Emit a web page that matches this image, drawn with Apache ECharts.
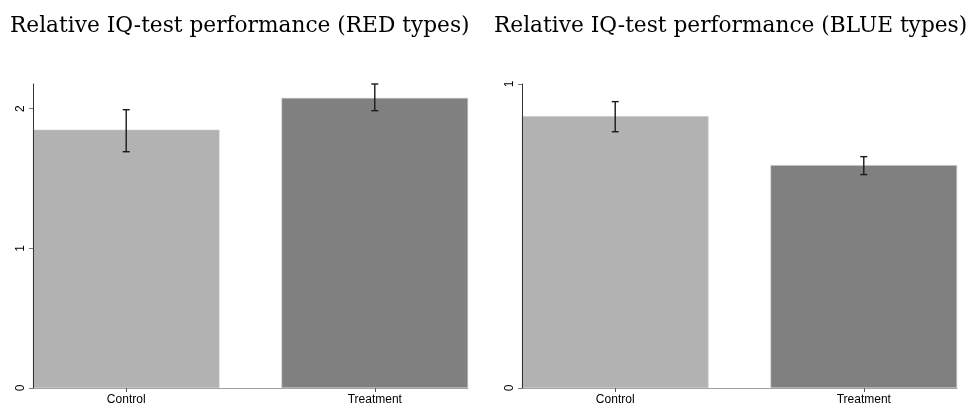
<!DOCTYPE html>
<html>
<head>
<meta charset="utf-8">
<script src="https://cdn.jsdelivr.net/npm/echarts@6/dist/echarts.min.js"></script>
<style>
html,body{margin:0;padding:0;background:#fff;}
#chart{width:968px;height:407px;}
</style>
</head>
<body>
<div id="chart"></div>
<script>
// ---- data ----
const categories = ['Control', 'Treatment'];
const catPos = [0, 1];
const redMean = [1.849, 2.077];
const redLo = [1.692, 1.986];
const redHi = [1.993, 2.177];
const blueMean = [0.894, 0.733];
const blueLo = [0.843, 0.702];
const blueHi = [0.942, 0.761];
const redTicks = [0, 1, 2];
const blueTicks = [0, 1];
const titles = ['Relative IQ-test performance (RED types)', 'Relative IQ-test performance (BLUE types)'];

const barColors = ['#b2b2b2', '#808080'];

const chart = echarts.init(document.getElementById('chart'), null, {renderer: 'canvas'});

function barData(vals) {
  return vals.map((v, i) => ({value: [catPos[i], v], itemStyle: {color: barColors[i]}}));
}
function errData(lo, hi) {
  return lo.map((l, i) => [catPos[i], l, hi[i]]);
}
function renderErr(params, api) {
  const x = api.value(0), lo = api.value(1), hi = api.value(2);
  const pHi = api.coord([x, hi]), pLo = api.coord([x, lo]);
  const hw = 3.5;
  const st = {stroke: '#1a1a1a', lineWidth: 1.4};
  return {type: 'group', children: [
    {type: 'line', shape: {x1: pHi[0], y1: pHi[1], x2: pLo[0], y2: pLo[1]}, style: st},
    {type: 'line', shape: {x1: pHi[0] - hw, y1: pHi[1], x2: pHi[0] + hw, y2: pHi[1]}, style: st},
    {type: 'line', shape: {x1: pLo[0] - hw, y1: pLo[1], x2: pLo[0] + hw, y2: pLo[1]}, style: st}
  ]};
}

function xAxis(gi) {
  return {
    type: 'value', gridIndex: gi, min: -0.375, max: 1.375,
    splitLine: {show: false},
    axisLine: {show: true, onZero: false, lineStyle: {color: '#a0a0a0', width: 1}},
    axisTick: {show: true, customValues: catPos, length: 4, lineStyle: {color: '#555'}},
    axisLabel: {customValues: catPos, formatter: v => categories[Math.round(v)],
      color: '#000', fontSize: 12, fontFamily: 'Liberation Sans, Arial, sans-serif', margin: 6}
  };
}
function yAxis(gi, ticks, max) {
  return {
    type: 'value', gridIndex: gi, min: 0, max: max, z: 3,
    splitLine: {show: false},
    axisLine: {show: true, onZero: false, lineStyle: {color: '#333', width: 1}},
    axisTick: {show: true, customValues: ticks, length: 4, lineStyle: {color: '#777'}},
    axisLabel: {customValues: ticks, rotate: 90, color: '#000', fontSize: 12,
      fontFamily: 'Liberation Sans, Arial, sans-serif', margin: 6}
  };
}

const titleStyle = {fontFamily: 'DejaVu Serif', fontSize: 21.7, fontWeight: 'normal', color: '#000'};

chart.setOption({
  animation: false,
  backgroundColor: '#fff',
  title: [
    {text: titles[0], left: 10, top: 15, padding: 0, textStyle: titleStyle},
    {text: titles[1], left: 494, top: 15, padding: 0, textStyle: titleStyle}
  ],
  grid: [
    {left: 33, width: 435, top: 84, bottom: 19},
    {left: 522, width: 435, top: 84, bottom: 19}
  ],
  xAxis: [xAxis(0), xAxis(1)],
  yAxis: [yAxis(0, redTicks, Math.max(...redHi)), yAxis(1, blueTicks, 1)],
  series: [
    {type: 'bar', xAxisIndex: 0, yAxisIndex: 0, barWidth: 186.5, data: barData(redMean),
      itemStyle: {borderColor: '#c4c4c4', borderWidth: 0.6}},
    {type: 'custom', xAxisIndex: 0, yAxisIndex: 0, renderItem: renderErr,
      encode: {x: 0, y: [1, 2]}, data: errData(redLo, redHi), z: 5},
    {type: 'bar', xAxisIndex: 1, yAxisIndex: 1, barWidth: 186.5, data: barData(blueMean),
      itemStyle: {borderColor: '#c4c4c4', borderWidth: 0.6}},
    {type: 'custom', xAxisIndex: 1, yAxisIndex: 1, renderItem: renderErr,
      encode: {x: 0, y: [1, 2]}, data: errData(blueLo, blueHi), z: 5}
  ]
});
</script>
</body>
</html>
